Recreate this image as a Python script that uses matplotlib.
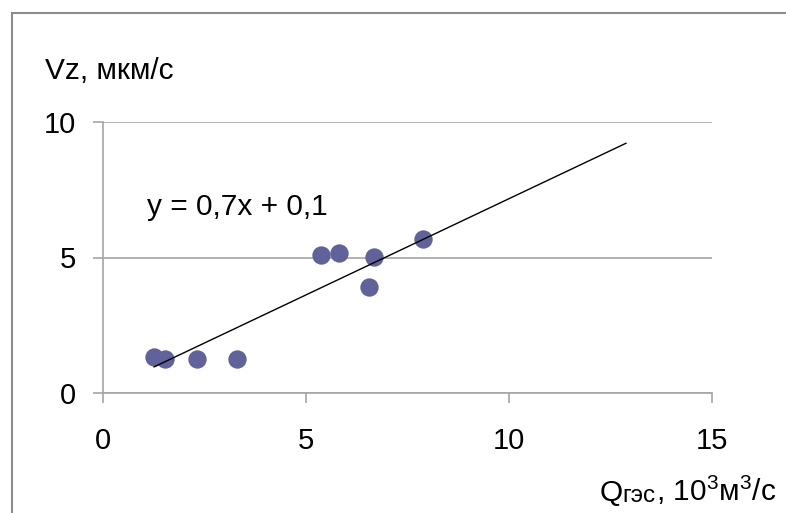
import numpy as np
import matplotlib
matplotlib.use('Agg')
import matplotlib.pyplot as plt
from matplotlib.patches import Rectangle

plt.rcParams['font.family'] = ['Liberation Sans', 'DejaVu Sans']
plt.rcParams['mathtext.fontset'] = 'custom'
plt.rcParams['mathtext.rm'] = 'Liberation Sans'
plt.rcParams['mathtext.it'] = 'Liberation Sans:italic'

# data
q_ges = [1.26, 1.53, 2.32, 3.30, 5.37, 5.81, 6.67, 6.55, 7.88]
v_z = [1.33, 1.25, 1.25, 1.25, 5.09, 5.17, 5.02, 3.91, 5.68]
trend_slope = 0.71
trend_intercept = 0.07
trend_forward = 5.0
x_ticks = [0, 5, 10, 15]
y_ticks = [0, 5, 10]
equation = 'y = 0,7x + 0,1'

W, H = 786, 513
fs = 21
grey = '#a6a6a6'

fig = plt.figure(figsize=(W / 100, H / 100), dpi=100)
ax = fig.add_axes([103 / W, 1 - 393 / H, (712 - 103) / W, (393 - 122) / H])

ax.scatter(q_ges, v_z, s=175, color='#62629a', zorder=3, linewidths=0)

tx = np.array([min(q_ges), max(q_ges) + trend_forward])
ax.plot(tx, trend_slope * tx + trend_intercept, color='black', lw=1.0, zorder=4)

ax.set_xlim(0, 15)
ax.set_ylim(0, 10)
ax.set_xticks(x_ticks)
ax.set_yticks(y_ticks)
ax.set_xticklabels([str(t) for t in x_ticks])
ax.set_yticklabels([str(t) for t in y_ticks])
ax.tick_params(axis='both', direction='out', length=7.5, width=1.2, color=grey,
               labelsize=fs, labelcolor='black')
ax.tick_params(axis='x', pad=17)
ax.tick_params(axis='y', pad=12)
ax.yaxis.grid(True, color=grey, lw=1.2)
ax.set_axisbelow(True)
for s in ['top', 'right']:
    ax.spines[s].set_visible(False)
for s in ['left', 'bottom']:
    ax.spines[s].set_color(grey)
    ax.spines[s].set_linewidth(1.2)

ax.text(1.08, 6.57, equation, fontsize=21.5, va='baseline', ha='left')

fig.text(45 / W, 1 - 79 / H, 'Vz, мкм/с', fontsize=21.5, va='baseline', ha='left')

# x axis title built right to left so the smaller "гэс" sits between pieces
t3 = fig.text(776 / W, 1 - 507 / H, ', 10$^{3}$м$^{3}$/с', fontsize=21.5,
              va='bottom', ha='right')
t2 = ax.annotate('гэс', xy=(0, 0), xycoords=t3, fontsize=17.5,
                 va='bottom', ha='right', annotation_clip=False)
ax.annotate('Q', xy=(0, 0), xycoords=t2, fontsize=21.5,
            va='bottom', ha='right', annotation_clip=False)

fig.patches.append(Rectangle((12 / W, -0.1), 1.2, (H - 13) / H + 0.1,
                             transform=fig.transFigure, fill=False,
                             edgecolor='#8c8c8c', lw=1.5))

fig.savefig('out.png', dpi=100)
